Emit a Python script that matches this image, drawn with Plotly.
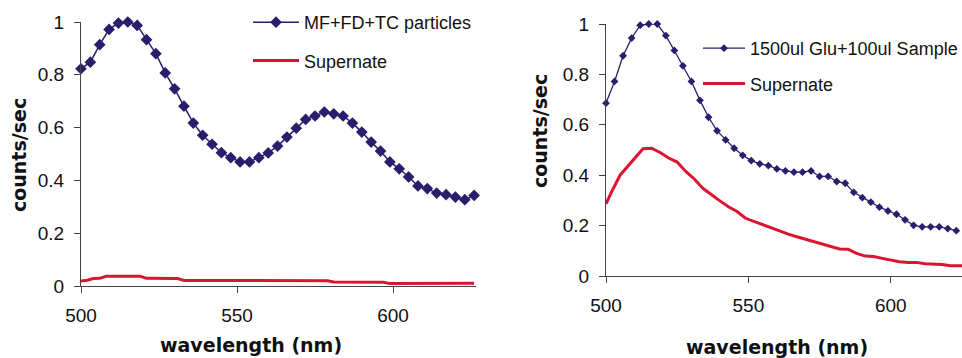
import plotly.graph_objects as go

# ---------------- data ----------------
# Left panel
left_wl = [500, 503, 506, 509, 512, 515, 518, 521, 524, 527, 530, 533, 536, 539, 542,
           545, 548, 551, 554, 557, 560, 563, 566, 569, 572, 575, 578, 581, 584, 587,
           590, 593, 596, 599, 602, 605, 608, 611, 614, 617, 620, 623, 626]
left_particles = [0.823, 0.848, 0.914, 0.972, 0.996, 1.0, 0.987, 0.933, 0.880, 0.807,
                  0.747, 0.681, 0.617, 0.571, 0.537, 0.505, 0.486, 0.470, 0.470, 0.486,
                  0.504, 0.530, 0.564, 0.598, 0.631, 0.644, 0.659, 0.652, 0.644, 0.617,
                  0.583, 0.545, 0.511, 0.470, 0.444, 0.413, 0.379, 0.369, 0.352, 0.346,
                  0.337, 0.327, 0.343]
left_sup_wl = [500, 502, 504, 506, 508, 512, 516, 519, 521, 525, 531, 533, 540, 550,
               560, 570, 579, 581, 590, 597, 599, 610, 620, 626]
left_sup = [0.019, 0.022, 0.028, 0.029, 0.037, 0.038, 0.038, 0.037, 0.029, 0.029,
            0.028, 0.021, 0.021, 0.021, 0.021, 0.021, 0.020, 0.015, 0.015, 0.014,
            0.009, 0.009, 0.009, 0.010]

# Right panel
right_wl = [500, 503, 506, 509, 512, 515, 518, 521, 524, 527, 530, 533, 536, 539, 542,
            545, 548, 551, 554, 557, 560, 563, 566, 569, 572, 575, 578, 581, 584, 587,
            590, 593, 596, 599, 602, 605, 608, 611, 614, 617, 620, 623]
right_sample = [0.686, 0.772, 0.874, 0.944, 0.995, 1.0, 1.0, 0.954, 0.895, 0.834,
                0.772, 0.697, 0.630, 0.576, 0.540, 0.507, 0.479, 0.458, 0.445, 0.438,
                0.425, 0.417, 0.412, 0.412, 0.417, 0.395, 0.395, 0.375, 0.368, 0.332,
                0.311, 0.293, 0.273, 0.258, 0.245, 0.223, 0.201, 0.195, 0.195, 0.195,
                0.188, 0.180]
right_sup_wl = [500, 502, 505, 508, 511, 513, 516, 519, 522, 525, 528, 531, 534, 537,
                540, 543, 546, 549, 552, 555, 558, 561, 564, 567, 570, 573, 576, 579,
                582, 585, 588, 591, 594, 597, 600, 603, 606, 609, 612, 615, 618, 621,
                624, 625]
right_sup = [0.286, 0.335, 0.401, 0.441, 0.481, 0.505, 0.507, 0.490, 0.468, 0.452,
             0.415, 0.385, 0.348, 0.322, 0.298, 0.275, 0.256, 0.229, 0.216, 0.203,
             0.192, 0.180, 0.166, 0.156, 0.146, 0.136, 0.126, 0.117, 0.107, 0.106,
             0.090, 0.079, 0.077, 0.070, 0.064, 0.057, 0.054, 0.054, 0.049, 0.048,
             0.046, 0.041, 0.041, 0.041]

left_names = ["MF+FD+TC particles", "Supernate"]
right_names = ["1500ul Glu+100ul Sample", "Supernate"]
x_ticks = [500, 550, 600]
y_ticks = [0, 0.2, 0.4, 0.6, 0.8, 1]
x_title = "wavelength (nm)"
y_title = "counts/sec"

# ---------------- style ----------------
W, H = 962, 358
NAVY = "#2B1D6C"
RED = "#DC1432"
AXIS = "#444444"
FONT = "Liberation Sans, Arial, sans-serif"
TITLE_FONT = "DejaVu Sans, sans-serif"

def px_x(p):
    return p / W

def px_y(p):
    return 1 - p / H

fig = go.Figure()

fig.add_trace(go.Scatter(x=left_wl, y=left_particles, name=left_names[0], mode="lines+markers",
                         line=dict(color=NAVY, width=1.5),
                         marker=dict(symbol="diamond", size=9, color=NAVY),
                         xaxis="x", yaxis="y", legend="legend", legendgroup="a", cliponaxis=False))
fig.add_trace(go.Scatter(x=left_sup_wl, y=left_sup, name=left_names[1], mode="lines",
                         line=dict(color=RED, width=3),
                         xaxis="x", yaxis="y", legend="legend", legendgroup="b", cliponaxis=False))
fig.add_trace(go.Scatter(x=right_wl, y=right_sample, name=right_names[0], mode="lines+markers",
                         line=dict(color=NAVY, width=1.3),
                         marker=dict(symbol="diamond", size=6, color=NAVY),
                         xaxis="x2", yaxis="y2", legend="legend2", legendgroup="c", cliponaxis=False))
fig.add_trace(go.Scatter(x=right_sup_wl, y=right_sup, name=right_names[1], mode="lines",
                         line=dict(color=RED, width=3),
                         xaxis="x2", yaxis="y2", legend="legend2", legendgroup="d", cliponaxis=False))

axis_common = dict(showline=True, linecolor=AXIS, linewidth=1.2, ticks="outside",
                   tickcolor=AXIS, tickwidth=1.2, ticklen=6, showgrid=False, zeroline=False,
                   automargin=False,
                   tickfont=dict(family=FONT, size=19, color="#111111"))

fig.update_layout(
    width=W, height=H,
    margin=dict(l=0, r=0, t=0, b=0, autoexpand=False),
    paper_bgcolor="white", plot_bgcolor="white",
    showlegend=True,
    xaxis=dict(domain=[px_x(81), px_x(476)], range=[500, 626.6], anchor="y",
               tickvals=x_ticks, ticklabelstandoff=6, **axis_common),
    yaxis=dict(domain=[px_y(286), px_y(22)], range=[0, 1], anchor="x",
               tickvals=y_ticks, ticklabelstandoff=6, **axis_common),
    xaxis2=dict(domain=[px_x(606), 1.0], range=[500, 625], anchor="y2",
                tickvals=x_ticks, ticklabelstandoff=6, **axis_common),
    yaxis2=dict(domain=[px_y(276), px_y(24)], range=[0, 1], anchor="x2",
                tickvals=y_ticks, ticklabelstandoff=6, **axis_common),
    legend=dict(x=px_x(248), y=px_y(4), xanchor="left", yanchor="top",
                font=dict(family=FONT, size=18, color="#111111"),
                bgcolor="rgba(0,0,0,0)", itemwidth=46, tracegroupgap=12,
                traceorder="grouped"),
    legend2=dict(x=px_x(698), y=px_y(30), xanchor="left", yanchor="top",
                 font=dict(family=FONT, size=18, color="#111111"),
                 bgcolor="rgba(0,0,0,0)", itemwidth=42, tracegroupgap=9,
                 traceorder="grouped"),
)

ann_font = dict(family=TITLE_FONT, size=19, color="#111111", weight="bold")
fig.add_annotation(text=x_title, x=px_x(251), y=px_y(345), xref="paper", yref="paper",
                   showarrow=False, font=ann_font, xanchor="center", yanchor="middle")
fig.add_annotation(text=x_title, x=px_x(777), y=px_y(347), xref="paper", yref="paper",
                   showarrow=False, font=ann_font, xanchor="center", yanchor="middle")
fig.add_annotation(text=y_title, x=px_x(19), y=px_y(155), xref="paper", yref="paper",
                   showarrow=False, font=ann_font, textangle=-90, xanchor="center", yanchor="middle")
fig.add_annotation(text=y_title, x=px_x(540), y=px_y(131), xref="paper", yref="paper",
                   showarrow=False, font=ann_font, textangle=-90, xanchor="center", yanchor="middle")

fig.write_html("out.html", config={"displayModeBar": False},
               post_script="document.body.style.margin='0px';document.body.style.overflow='hidden';")
